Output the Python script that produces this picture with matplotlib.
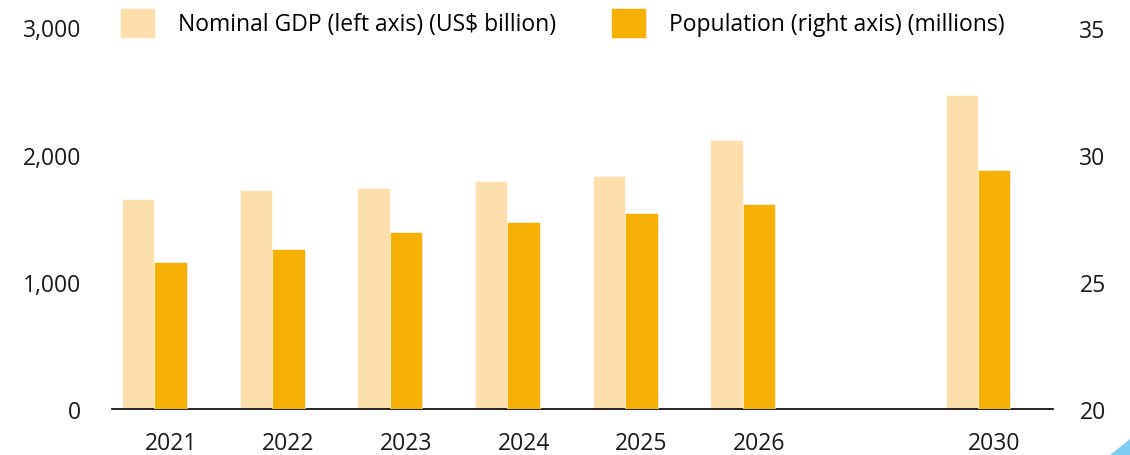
import numpy as np
import matplotlib
matplotlib.use('Agg')
import matplotlib.pyplot as plt
from matplotlib.patches import Polygon

# Dane
years = ['2021', '2022', '2023', '2024', '2025', '2026', '2030']
slots = [0, 1, 2, 3, 4, 5, 7]          # przerwa miedzy 2026 a 2030
gdp = [1650, 1720, 1736, 1789, 1830, 2113, 2472]          # US$ billion (lewa os)
population = [25.76, 26.29, 26.94, 27.36, 27.70, 28.06, 29.41]  # miliony (prawa os)

gdp_ticks = [0, 1000, 2000, 3000]
pop_ticks = [20, 25, 30, 35]

c_gdp = '#FDDEAD'
c_pop = '#F5AF05'

plt.rcParams['font.family'] = ['Open Sans', 'DejaVu Sans']
fs = 16.5

fig = plt.figure(figsize=(11.3, 4.56), dpi=100)
ax = fig.add_axes([0.0991, 0.1009, 0.8328, 0.8366])
ax2 = ax.twinx()

x = np.array(slots, dtype=float)
w = 0.276
ax.bar(x - w / 2, gdp, width=w, color=c_gdp, edgecolor='white', linewidth=0.4,
       label='Nominal GDP (left axis) (US$ billion)', zorder=2)
ax2.bar(x + w / 2, population, width=w, color=c_pop, edgecolor='white', linewidth=0.4,
        label='Population (right axis) (millions)', zorder=2)

ax.set_xlim(-0.361, 7.638)
ax.set_ylim(0, 3000)
ax2.set_ylim(20, 35)

ax.set_yticks(gdp_ticks)
ax.set_yticklabels([f'{v:,}' for v in gdp_ticks])
ax2.set_yticks(pop_ticks)
ax2.set_yticklabels([str(v) for v in pop_ticks])

# etykiety lat lekko przesuniete w prawo, jak w oryginale
ax.set_xticks(x + 0.14)
ax.set_xticklabels(years)

for a in (ax, ax2):
    for s in ('top', 'left', 'right', 'bottom'):
        a.spines[s].set_visible(False)
ax.spines['bottom'].set_visible(True)
ax.spines['bottom'].set_color('black')
ax.spines['bottom'].set_linewidth(1.2)
ax.spines['bottom'].set_zorder(5)

ax.tick_params(axis='x', length=0, pad=16, labelsize=fs, colors='#1a1a1a')
ax.tick_params(axis='y', length=0, pad=22, labelsize=fs, colors='#1a1a1a')
ax2.tick_params(axis='y', length=0, pad=19, labelsize=fs, colors='#1a1a1a')

h1, l1 = ax.get_legend_handles_labels()
h2, l2 = ax2.get_legend_handles_labels()
fig.legend(h1 + h2, l1 + l2, loc='upper left', bbox_to_anchor=(120 / 1130, 1 - 8.5 / 456),
           ncol=2, frameon=False, fontsize=fs, borderpad=0, borderaxespad=0,
           handlelength=1.53, handleheight=1.7, handletextpad=1.0, columnspacing=2.4)

# niebieski trojkat w prawym dolnym rogu
fig.patches.append(Polygon([(1110 / 1130, 0), (1.0, 0), (1.0, 16 / 456)], closed=True,
                           transform=fig.transFigure, color='#7FCDF2', figure=fig))

fig.savefig('out.png', dpi=100)
